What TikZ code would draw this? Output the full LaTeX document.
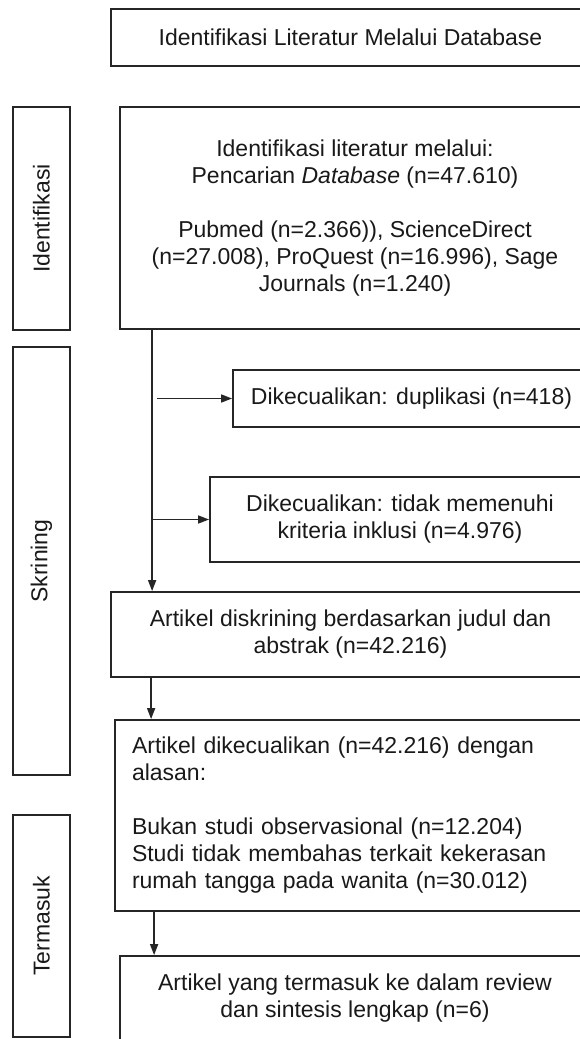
\documentclass[tikz,border=0pt]{standalone}
\usepackage{fontspec}
\setmainfont{Liberation Sans}
\usetikzlibrary{arrows.meta}

\begin{document}
\begin{tikzpicture}[
    x=1pt, y=-1pt,
    kasten/.style={
      draw=black!85,
      line width=1.8pt,
      rectangle,
      inner sep=0pt,
      align=center,
      text=black!90,
      font=\fontsize{23}{27}\selectfont},
    tahap/.style={
      kasten,
      rotate=90,
      minimum height=57pt},
    pfeil/.style={
      draw=black!85,
      line width=1.6pt,
      -{Triangle[length=11pt,width=8pt]}}
    ]

  \useasboundingbox (0,0) rectangle (580,1039);
  \clip (0,0) rectangle (580,1039);

  \node at (41.5,218.5) (tahap0) [tahap, minimum width=223pt] {Identifikasi};
  \node at (41.5,561) (tahap1) [tahap, minimum width=428pt] {Skrining};
  \node at (41.5,926) (tahap2) [tahap, minimum width=222pt] {Termasuk};



  \node at (350.5,37.5) (kotak0) [kasten, minimum width=479pt, minimum height=57pt]
    {Identifikasi Literatur Melalui Database};
  \node at (355,218) (kotak1) [kasten, minimum width=470pt, minimum height=222pt]
    {Identifikasi literatur melalui:\\ Pencarian \textit{Database} (n=47.610)\\[27pt]
     Pubmed (n=2.366)), ScienceDirect\\ (n=27.008), ProQuest (n=16.996), Sage\\
     Journals (n=1.240)};
  \node at (411.5,398.5) (kotak2) [kasten, minimum width=357pt, minimum height=57pt]
    {Dikecualikan: duplikasi (n=418)};
  \node at (400,519.5) (kotak3) [kasten, minimum width=380pt, minimum height=85pt]
    {Dikecualikan: tidak memenuhi\\ kriteria inklusi (n=4.976)};
  \node at (350.5,634.5) (kotak4) [kasten, minimum width=479pt, minimum height=85pt]
    {Artikel diskrining berdasarkan judul dan\\ abstrak (n=42.216)};
  \node at (352.5,815.5) (kotak5) [kasten, align=left, text width=441pt,
      inner xsep=17pt, minimum height=191pt]
    {Artikel dikecualikan (n=42.216) dengan\\ alasan:\\[27pt]
     Bukan studi observasional (n=12.204)\\ Studi tidak membahas terkait kekerasan\\
     rumah tangga pada wanita (n=30.012)};
  \node at (355,998.5) (kotak6) [kasten, minimum width=470pt, minimum height=85pt]
    {Artikel yang termasuk ke dalam review\\ dan sintesis lengkap (n=6)};



  \coordinate (ast0) at (157,398.5);
  \coordinate (ast1) at (153,519.5);

  \path[every edge/.append style={pfeil}]
        ([xshift=33pt]kotak1.south west) edge ([xshift=42pt]kotak4.north west)
        (ast0) edge (kotak2.west)
        (ast1) edge (kotak3.west)
        ([xshift=41pt]kotak4.south west) edge ([xshift=37pt]kotak5.north west)
        ([xshift=40pt]kotak5.south west) edge ([xshift=35pt]kotak6.north west)
   ;

\end{tikzpicture}
\end{document}
